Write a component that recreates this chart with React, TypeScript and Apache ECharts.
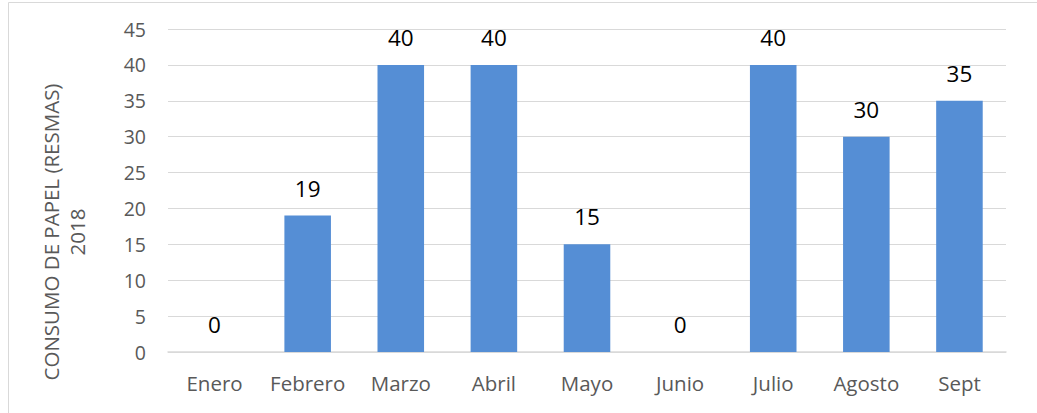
import React, { useEffect, useRef } from "react";
import * as echarts from "echarts";

const categories = ["Enero", "Febrero", "Marzo", "Abril", "Mayo", "Junio", "Julio", "Agosto", "Sept"];
const values = [0, 19, 40, 40, 15, 0, 40, 30, 35];
const yTitleLines = ["CONSUMO DE PAPEL (RESMAS)", "2018"];

const FONT = "'Open Sans', sans-serif";

export default function App() {
  const ref = useRef<HTMLDivElement>(null);
  useEffect(() => {
    if (!ref.current) return;
    const chart = echarts.init(ref.current, null, { renderer: "svg" });
    chart.setOption({
      animation: false,
      backgroundColor: "#ffffff",
      grid: { left: 168, right: 31, top: 29, bottom: 61, containLabel: false },
      xAxis: {
        type: "category",
        data: categories,
        axisLine: { show: true, lineStyle: { color: "#d9d9d9", width: 1.5 } },
        axisTick: { show: false },
        axisLabel: { color: "#595959", fontSize: 20.5, fontFamily: FONT, margin: 20, interval: 0, hideOverlap: false },
      },
      yAxis: {
        type: "value",
        min: 0,
        max: 45,
        interval: 5,
        axisLine: { show: false },
        axisTick: { show: false },
        splitLine: { lineStyle: { color: "#d9d9d9", width: 1 } },
        axisLabel: { color: "#595959", fontSize: 19.5, fontFamily: FONT, margin: 22 },
      },
      series: [
        {
          type: "bar",
          data: values,
          barWidth: "50%",
          itemStyle: { color: "#558ed5" },
          label: {
            show: true,
            position: "top",
            distance: 16,
            color: "#000000",
            fontSize: 22.5,
            fontFamily: FONT,
          },
        },
      ],
      graphic: [
        {
          type: "line",
          shape: { x1: 8.5, y1: 2.5, x2: 8.5, y2: 413 },
          style: { stroke: "#d9d9d9", lineWidth: 1 },
        },
        {
          type: "line",
          shape: { x1: 8.5, y1: 2.5, x2: 1037, y2: 2.5 },
          style: { stroke: "#d9d9d9", lineWidth: 1 },
        },
        {
          type: "text",
          x: 51,
          y: 232,
          rotation: Math.PI / 2,
          style: {
            text: yTitleLines[0],
            fill: "#595959",
            fontSize: 20.5,
            fontFamily: FONT,
            align: "center",
            verticalAlign: "middle",
          },
        },
        {
          type: "text",
          x: 77,
          y: 232,
          rotation: Math.PI / 2,
          style: {
            text: yTitleLines[1],
            fill: "#595959",
            fontSize: 20.5,
            fontFamily: FONT,
            align: "center",
            verticalAlign: "middle",
          },
        },
      ],
    });
    return () => chart.dispose();
  }, []);
  return (
    <div
      ref={ref}
      style={{ position: "absolute", left: 0, top: 0, width: 1037, height: 413 }}
    />
  );
}
